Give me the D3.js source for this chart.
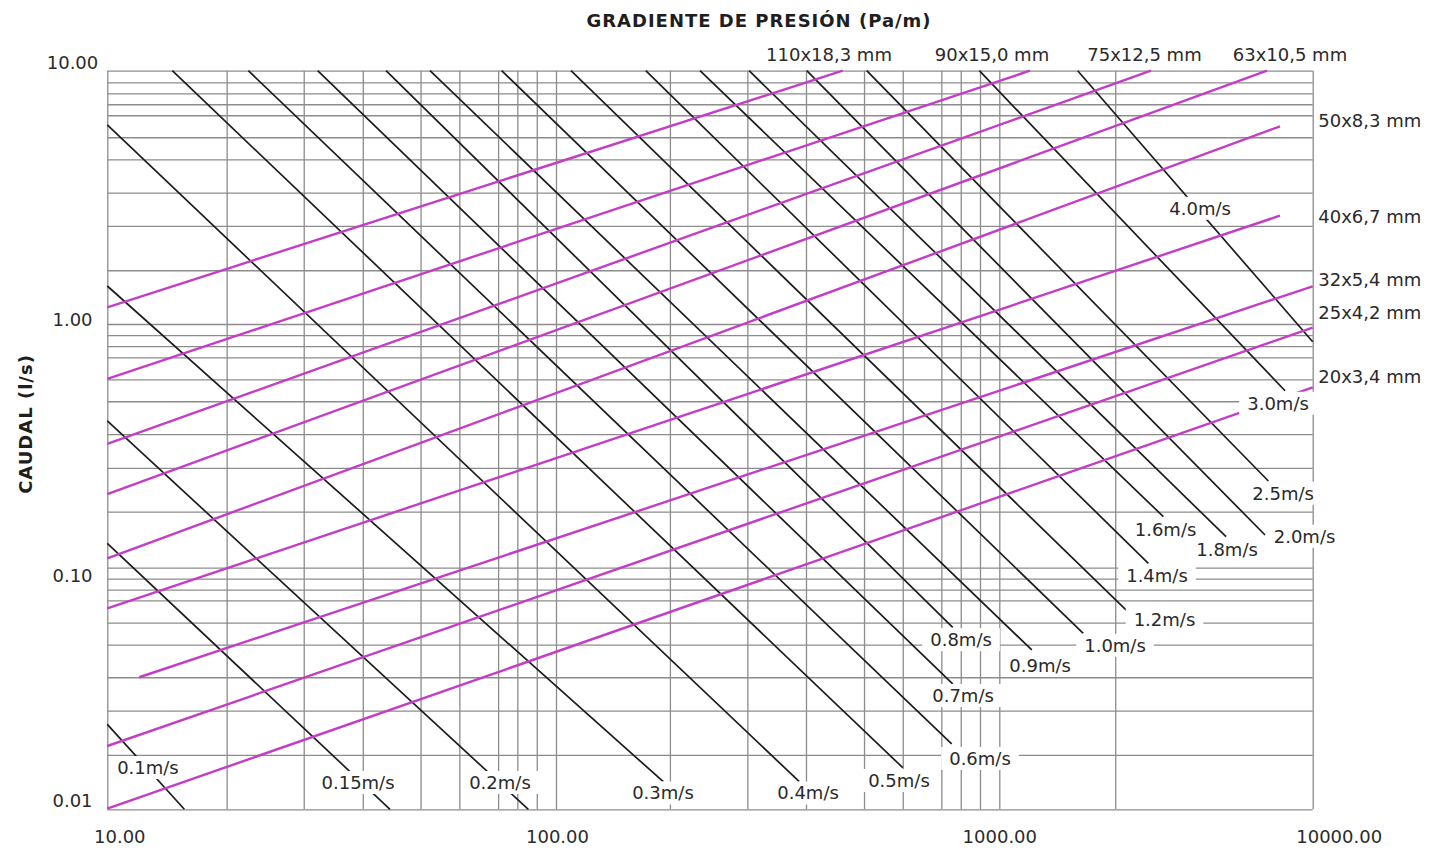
<!DOCTYPE html>
<html>
<head>
<meta charset="utf-8">
<script src="https://cdn.jsdelivr.net/npm/d3@7"></script>
<style>
  body { margin: 0; background: #fff; }
  svg { display: block; font-family: "DejaVu Sans", Verdana, sans-serif; }
</style>
</head>
<body>
<svg id="chart" width="1440" height="851"></svg>
<script>
// ---- Axis calibration (log decades) ----
const xDecades = [10, 100, 1000, 5100];          // Pa/m
const yDecades = [0.01, 0.1, 1, 10];             // l/s

const xTickValues = [10, 100, 1000, 10000];
const xTickLabels = ["10.00", "100.00", "1000.00", "10000.00"];
const yTickValues = [0.01, 0.1, 1, 10];
const yTickLabels = ["0.01", "0.10", "1.00", "10.00"];

// Grid lines as drawn on the printed chart
const xGridValues = [10, 18.45, 27.4, 37.1, 49.9, 60.9, 74.3, 82.0, 90.6, 100,
                     180.7, 270.2, 366.4, 495.3, 605.6, 740, 818.5, 904.6, 1000,
                     1827, 5100];
const yGridValues = [10, 9.0, 8.14, 7.37, 6.67, 5.46, 4.47, 3.30, 2.44, 1.63, 1,
                     0.901, 0.812, 0.730, 0.593, 0.482, 0.353, 0.257, 0.170, 0.1,
                     0.0901, 0.0811, 0.0733, 0.0592, 0.0480, 0.0352, 0.0256, 0.0168, 0.01];

// ---- Pipe sizes (outer diameter x wall) ----
const pipeNames  = ["110x18,3 mm", "90x15,0 mm", "75x12,5 mm", "63x10,5 mm", "50x8,3 mm",
                    "40x6,7 mm", "32x5,4 mm", "25x4,2 mm", "20x3,4 mm"];
const pipeStartG = [10, 10, 10, 10, 10, 10, 11.78, 10, 10];
const pipeStartQ = [1.164, 0.5948, 0.3219, 0.2006, 0.1093, 0.0679, 0.0352, 0.01828, 0.01006];
const pipeEndG   = [443.4, 1173, 2200, 4022, 4303, 4303, 5100, 5100, 5100];
const pipeEndQ   = [10, 10, 10, 10, 6.03, 2.677, 1.409, 0.9656, 0.5497];
// label anchors: along the top (gradient given) or down the right side (flow given)
const pipeLabelG = [412.9, 962.7, 2127, 4532, null, null, null, null, null];
const pipeLabelQ = [null, null, null, null, 6.33, 2.652, 1.492, 1.115, 0.609];

// ---- Velocity lines ----
const velLabels = ["0.1m/s", "0.15m/s", "0.2m/s", "0.3m/s", "0.4m/s", "0.5m/s", "0.6m/s",
                   "0.7m/s", "0.8m/s", "0.9m/s", "1.0m/s", "1.2m/s", "1.4m/s", "1.6m/s",
                   "1.8m/s", "2.0m/s", "2.5m/s", "3.0m/s", "4.0m/s"];
const velStartG = [10, 10, 10, 10, 10, 13.96, 20.62, 29.43, 41.80, 52.39, 75.68, 108.1,
                   159.4, 211.3, 272.6, 367.8, 502.2, 901.5, 1503];
const velStartQ = [0.02248, 0.1259, 0.4, 1.4127, 6.105, 10, 10, 10, 10, 10, 10, 10,
                   10, 10, 10, 10, 10, 10, 10];
const velEndG   = [14.85, 42.66, 86.76, 174.6, 353.9, 605.6, 780.8, 785, 785, 1184, 1547,
                   1950, 2170, 2346, 3250, 3981, 4050, 4417, 5100];
const velEndQ   = [0.01, 0.01, 0.01, 0.01301, 0.01301, 0.01487, 0.01864, 0.03302, 0.05667,
                   0.04565, 0.05353, 0.06574, 0.1042, 0.1620, 0.1340, 0.1362, 0.2269,
                   0.5324, 0.846];
const velLabelG = [12.32, 36.21, 75.02, 174.3, 370.3, 593.9, 904.6, 828.3, 819.8, 1236,
                   1825, 2360, 2270, 2373, 3267, 4888, 4372, 4259, 2840];
const velLabelQ = [0.01489, 0.01291, 0.01291, 0.01168, 0.01168, 0.01316, 0.01623, 0.02958,
                   0.05035, 0.03937, 0.04774, 0.06074, 0.09284, 0.1439, 0.1188, 0.1345,
                   0.2020, 0.4727, 2.862];

// ---- Layout ----
const svg = d3.select("#chart");
const x = d3.scaleLog().domain(xDecades).range([107.3, 556, 999.3, 1312.7]).clamp(true);
const y = d3.scaleLog().domain(yDecades).range([809.3, 567.7, 324, 70.7]);
const plotLeft = x.range()[0], plotRight = x.range()[x.range().length - 1];
const plotTop = y.range()[y.range().length - 1], plotBottom = y.range()[0];

const GRID = "#8c8c8c", PIPE = "#c23ec4", VEL = "#1c1c1c", TEXT = "#2a2a2a";

// grid (vertical from a bottom axis, horizontal from a left axis)
const gx = svg.append("g").attr("transform", `translate(0,${plotBottom})`)
  .call(d3.axisBottom(x).tickValues(xGridValues).tickSize(-(plotBottom - plotTop)).tickFormat(""));
const gy = svg.append("g").attr("transform", `translate(${plotLeft},0)`)
  .call(d3.axisLeft(y).tickValues(yGridValues).tickSize(-(plotRight - plotLeft)).tickFormat(""));
[gx, gy].forEach(g => {
  g.select(".domain").remove();
  g.selectAll(".tick line").attr("stroke", GRID).attr("stroke-width", 1.3);
});

// tick labels
const ax = svg.append("g").attr("transform", `translate(0,${plotBottom})`)
  .call(d3.axisBottom(x).tickValues(xTickValues).tickSize(0)
    .tickFormat((d, i) => xTickLabels[i]));
ax.select(".domain").remove();
const xNudge = [12, 1, 0, 26];
ax.selectAll(".tick text")
  .attr("y", 34).attr("dy", null).attr("dx", (d, i) => xNudge[i])
  .attr("fill", TEXT).attr("font-size", 18).attr("font-family", "DejaVu Sans");

const ay = svg.append("g").attr("transform", `translate(${plotLeft},0)`)
  .call(d3.axisLeft(y).tickValues(yTickValues).tickSize(0)
    .tickFormat((d, i) => yTickLabels[i]));
ay.select(".domain").remove();
const yNudge = [-3, 14, 1, -2.5];
ay.selectAll(".tick text")
  .attr("x", 72.5 - plotLeft).attr("dy", null).attr("y", (d, i) => yNudge[i])
  .attr("text-anchor", "middle")
  .attr("fill", TEXT).attr("font-size", 18).attr("font-family", "DejaVu Sans");

// axis titles
svg.append("text")
  .attr("x", 759).attr("y", 26.5).attr("text-anchor", "middle")
  .attr("font-size", 18).attr("font-weight", "bold").attr("letter-spacing", 1)
  .attr("fill", "#1e1e1e").text("GRADIENTE DE PRESIÓN (Pa/m)");
svg.append("text")
  .attr("transform", "translate(31.5,424) rotate(-90)").attr("text-anchor", "middle")
  .attr("font-size", 18).attr("font-weight", "bold").attr("letter-spacing", 1)
  .attr("fill", "#1e1e1e").text("CAUDAL (l/s)");

// velocity lines
const velData = velLabels.map((t, i) => ({
  label: t,
  pts: [[velStartG[i], velStartQ[i]], [velEndG[i], velEndQ[i]]],
  lg: velLabelG[i], lq: velLabelQ[i]
}));
const line = d3.line().x(d => x(d[0])).y(d => y(d[1]));
svg.append("g").selectAll("path").data(velData).join("path")
  .attr("d", d => line(d.pts))
  .attr("fill", "none").attr("stroke", VEL).attr("stroke-width", 1.7);

// pipe lines
const pipeData = pipeNames.map((n, i) => ({
  name: n,
  pts: [[pipeStartG[i], pipeStartQ[i]], [pipeEndG[i], pipeEndQ[i]]],
  lg: pipeLabelG[i], lq: pipeLabelQ[i]
}));
svg.append("g").selectAll("path").data(pipeData).join("path")
  .attr("d", d => line(d.pts))
  .attr("fill", "none").attr("stroke", PIPE).attr("stroke-width", 2.4);

// pipe labels
svg.append("g").selectAll("text").data(pipeData).join("text")
  .attr("x", d => d.lg != null ? x(d.lg) : plotRight + 5.6)
  .attr("y", d => d.lq != null ? y(d.lq) : plotTop - 9.5)
  .attr("dy", d => d.lq != null ? "0.36em" : null)
  .attr("text-anchor", d => d.lg != null ? "middle" : "start")
  .attr("font-size", 18).attr("fill", TEXT)
  .text(d => d.name);

// velocity labels on white boxes
const vl = svg.append("g").selectAll("g").data(velData).join("g");
vl.append("text")
  .attr("x", d => x(d.lg)).attr("y", d => y(d.lq)).attr("dy", "0.36em")
  .attr("text-anchor", "middle").attr("font-size", 18).attr("fill", TEXT)
  .text(d => d.label);
vl.each(function() {
  const g = d3.select(this);
  const b = g.select("text").node().getBBox();
  g.insert("rect", "text")
    .attr("x", b.x - 8).attr("y", b.y - 1)
    .attr("width", b.width + 16).attr("height", b.height + 2)
    .attr("fill", "#fff");
});
</script>
</body>
</html>
